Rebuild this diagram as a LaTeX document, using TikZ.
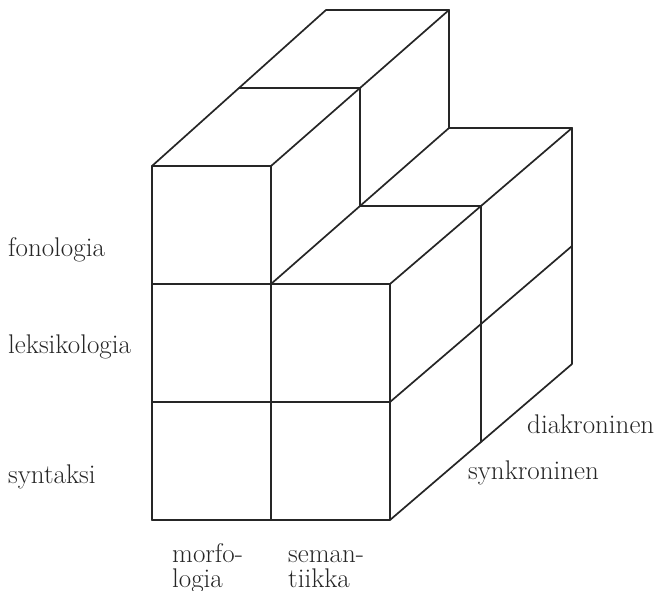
\documentclass[tikz,border=0pt]{standalone}
\begin{document}
\begin{tikzpicture}[x=1pt,y=-1pt,
  edge/.style={line width=1.7pt,line cap=round,line join=round,black!85},
  lbl/.style={inner sep=0pt,anchor=base west,font=\fontsize{27}{30}\selectfont,black!85}]
\useasboundingbox (0,0) rectangle (664,591);
\newcommand\Pt[3]{({152+119*#1+(87+2*#1)*#3},{520-118*#2-78*#3})}
% front face
\draw[edge] \Pt000 -- \Pt200 -- \Pt220;
\draw[edge] \Pt000 -- \Pt030 -- \Pt130 -- \Pt100;
\draw[edge] \Pt010 -- \Pt210;
\draw[edge] \Pt020 -- \Pt220;
% top of left column
\draw[edge] \Pt030 -- \Pt032 -- \Pt132 -- \Pt130;
\draw[edge] \Pt031 -- \Pt131;
% side of left column
\draw[edge] \Pt132 -- \Pt122;
\draw[edge] \Pt131 -- \Pt121;
\draw[edge] \Pt120 -- \Pt122;
% top of right part
\draw[edge] \Pt122 -- \Pt222;
\draw[edge] \Pt121 -- \Pt221;
\draw[edge] \Pt220 -- \Pt222;
% right face
\draw[edge] \Pt222 -- \Pt202 -- \Pt200;
\draw[edge] \Pt210 -- \Pt212;
\draw[edge] \Pt221 -- \Pt201;
% labels
\node[lbl] (fon) at (8,256) {fonologia};
\node[lbl] (lek) at (8,353) {leksikologia};
\node[lbl] (syn) at (8,483) {syntaksi};
\node[lbl] (mor1) at (172,562) {morfo-};
\node[lbl] (mor2) at (172,587) {logia};
\node[lbl] (sem1) at (288,562) {seman-};
\node[lbl] (sem2) at (288,587) {tiikka};
\node[lbl] (dia) at (527,433) {diakroninen};
\node[lbl] (snk) at (468,479) {synkroninen};
\end{tikzpicture}
\end{document}
